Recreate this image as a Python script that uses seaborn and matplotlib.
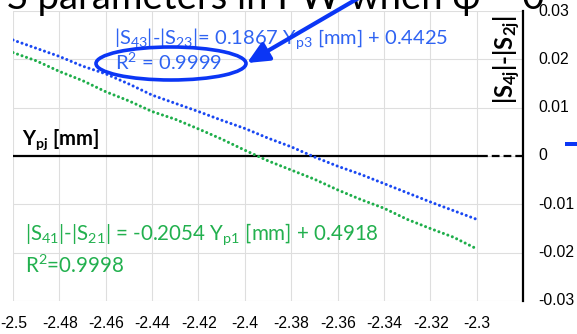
import numpy as np
import pandas as pd
import matplotlib
matplotlib.use("Agg")
import matplotlib.pyplot as plt
import seaborn as sns
from matplotlib.patches import Ellipse, FancyArrowPatch, Rectangle

# ---------------- data ----------------
ypj = [-2.50, -2.49, -2.48, -2.47, -2.46, -2.45, -2.44, -2.43, -2.42, -2.41, -2.40,
       -2.39, -2.38, -2.37, -2.36, -2.35, -2.34, -2.33, -2.32, -2.31, -2.30]
s43_s23 = [0.0240, 0.0223, 0.0206, 0.0186, 0.0170, 0.0149, 0.0126, 0.0109, 0.0092, 0.0074, 0.0057,
           0.0037, 0.0019, -0.0002, -0.0021, -0.0038, -0.0057, -0.0076, -0.0095, -0.0113, -0.0131]
s41_s21 = [0.0214, 0.0197, 0.0175, 0.0156, 0.0133, 0.0114, 0.0092, 0.0076, 0.0056, 0.0035, 0.0012,
           -0.0010, -0.0029, -0.0048, -0.0070, -0.0090, -0.0108, -0.0131, -0.0150, -0.0168, -0.0192]
x_ticks = [-2.50, -2.48, -2.46, -2.44, -2.42, -2.40, -2.38, -2.36, -2.34, -2.32, -2.30]
x_labels = ["-2.5", "-2.48", "-2.46", "-2.44", "-2.42", "-2.4", "-2.38", "-2.36", "-2.34", "-2.32", "-2.3"]
y_ticks = [-0.03, -0.02, -0.01, 0.0, 0.01, 0.02, 0.03]
y_labels = ["-0.03", "-0.02", "-0.01", "0", "0.01", "0.02", "0.03"]
title_text = "S parameters in PW when φ = 0"
eq_blue = "|S$_{43}$|-|S$_{23}$|= 0.1867 Y$_{\\rm p3}$ [mm] + 0.4425"
r2_blue = "R$^{2}$ = 0.9999"
eq_green = "|S$_{41}$|-|S$_{21}$| = -0.2054 Y$_{\\rm p1}$ [mm] + 0.4918"
r2_green = "R$^{2}$=0.9998"
y_label = "|S$_\\mathbf{4j}$|-|S$_\\mathbf{2j}$|"
x_label = "Y$_\\mathbf{pj}$ [mm]"

# ---------------- style ----------------
sns.set_style("white")
plt.rcParams["font.family"] = ["Lato", "DejaVu Sans"]
plt.rcParams["mathtext.fontset"] = "custom"
plt.rcParams["mathtext.rm"] = "Lato"
plt.rcParams["mathtext.it"] = "Lato:italic"
plt.rcParams["mathtext.bf"] = "Lato:bold"
plt.rcParams["mathtext.default"] = "regular"

BLUE_LINE = "#1a48f2"
GREEN_LINE = "#1fae4b"
BLUE_TXT = "#2f63f2"
GREEN_TXT = "#22b04e"
BLUE_ARW = "#0b36f5"

W, H = 577, 334
fig = plt.figure(figsize=(W / 100, H / 100), dpi=100)
fig.patch.set_facecolor("white")


def px(x, y):
    return (x / W, 1 - y / H)


ax = fig.add_axes([13 / W, 1 - 301 / H, (523 - 13) / W, (301 - 11) / H])

df = pd.DataFrame({"ypj": ypj, "blue": s43_s23, "green": s41_s21})
dot = (0, (0.01, 1.55))
sns.lineplot(data=df, x="ypj", y="blue", ax=ax, color=BLUE_LINE, lw=2.2,
             linestyle=dot, dash_capstyle="round", zorder=3)
sns.lineplot(data=df, x="ypj", y="green", ax=ax, color=GREEN_LINE, lw=2.2,
             linestyle=dot, dash_capstyle="round", zorder=3)

ax.set_xlim(-2.5, -2.28)
ax.set_ylim(-0.03, 0.03)
ax.set_xticks(np.arange(-2.5, -2.279, 0.02))
ax.set_yticks(y_ticks)
ax.grid(True, color="#dedede", lw=0.8)
for s in ["top", "left", "bottom"]:
    ax.spines[s].set_visible(False)
ax.spines["right"].set_visible(True)
ax.spines["right"].set_color("black")
ax.spines["right"].set_linewidth(1.6)
ax.tick_params(length=0, labelleft=False, labelright=False, labelbottom=False)
ax.set_xlabel("")
ax.set_ylabel("")

# zero line: solid then dashed
ax.plot([-2.5, -2.2987], [0, 0], color="black", lw=1.6, zorder=2, solid_capstyle="butt")
ax.plot([-2.2987, -2.28], [0, 0], color="black", lw=1.6, zorder=2, linestyle=(0, (3.5, 1.8)))

# tick labels (Arial-like)
for xv, lab in zip(x_ticks, x_labels):
    xp = 13.3 + (xv + 2.5) / 0.02 * 46.37
    fig.text(*px(xp, 323), lab, ha="center", va="center", fontsize=11.3,
             family="Liberation Sans", color="black")
for yv, lab in zip(y_ticks, y_labels):
    yp = 156 - yv / 0.01 * 48.33
    fig.text(*px(538, yp), lab, ha="left", va="center", fontsize=11.3,
             family="Liberation Sans", color="black")

# title (cropped at the top)
fig.text(*px(7, 8.5), title_text, ha="left", va="baseline", fontsize=27.5, color="black")

# axis labels
fig.text(*px(507, 60), y_label, rotation=90, ha="center", va="center",
         fontsize=17, fontweight="bold", color="black")
fig.text(*px(22, 145), x_label, ha="left", va="baseline",
         fontsize=14.5, fontweight="bold", color="black")

# equations
fig.text(*px(114, 44), eq_blue, ha="left", va="baseline", fontsize=14.5, color=BLUE_TXT)
fig.text(*px(115, 70), r2_blue, ha="left", va="baseline", fontsize=14.5, color=BLUE_TXT)
fig.text(*px(25, 240), eq_green, ha="left", va="baseline", fontsize=14.8, color=GREEN_TXT)
fig.text(*px(25, 273), r2_green, ha="left", va="baseline", fontsize=14.8, color=GREEN_TXT)

# ellipse and arrow
fig.add_artist(Ellipse(px(171, 63.5), 150 / W, 33 / H, transform=fig.transFigure,
                       fill=False, ec=BLUE_ARW, lw=2.6, zorder=5))
fig.add_artist(FancyArrowPatch(px(362, -4), px(247, 63), transform=fig.transFigure,
                               arrowstyle="-|>,head_length=13,head_width=6", mutation_scale=1,
                               color=BLUE_ARW, lw=3, shrinkA=0, shrinkB=0, zorder=6))
# cropped legend marker at right edge
fig.add_artist(Rectangle(px(565, 146), 12 / W, 4 / H, transform=fig.transFigure,
                         color=BLUE_ARW, lw=0))

fig.savefig("out.png", dpi=100, facecolor="white")
